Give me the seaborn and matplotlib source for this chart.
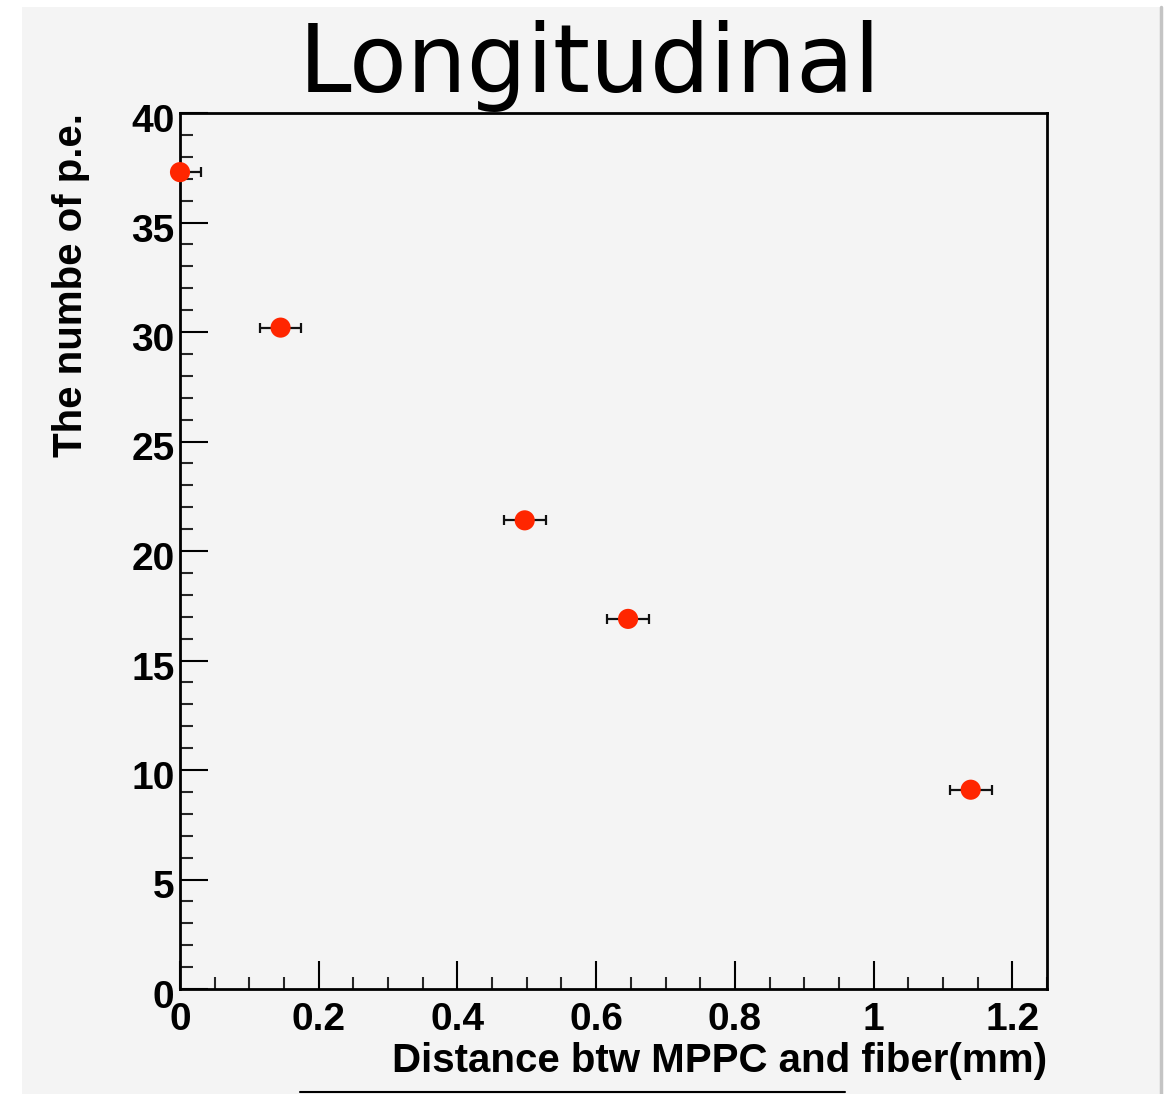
import matplotlib
matplotlib.use("Agg")
import matplotlib.pyplot as plt
import matplotlib.transforms as mtransforms
import seaborn as sns
import pandas as pd
from matplotlib.patches import Rectangle
from matplotlib.lines import Line2D
from matplotlib.ticker import MultipleLocator

# ---- data ----
distance_mm = [0.0, 0.145, 0.497, 0.646, 1.140]
n_pe = [37.3, 30.2, 21.4, 16.9, 9.1]
distance_err = [0.03, 0.03, 0.03, 0.03, 0.03]
x_ticks = [0, 0.2, 0.4, 0.6, 0.8, 1.0, 1.2]
x_tick_labels = ["0", "0.2", "0.4", "0.6", "0.8", "1", "1.2"]
y_ticks = [0, 5, 10, 15, 20, 25, 30, 35, 40]
title = "Longitudinal"
x_label = "Distance btw MPPC and fiber(mm)"
y_label = "The numbe of p.e."

df = pd.DataFrame({"distance": distance_mm, "npe": n_pe, "err": distance_err})

sns.set_theme(style="ticks")
plt.rcParams["font.family"] = ["Liberation Sans", "DejaVu Sans"]

W, H = 1173, 1094
fig = plt.figure(figsize=(W / 100, H / 100), dpi=100, facecolor="white")

# slide panel background
fig.patches.append(Rectangle((22 / W, 0), (1160 - 22) / W, (H - 7) / H,
                             transform=fig.transFigure, facecolor="#f4f4f4",
                             edgecolor="none", zorder=-3))
fig.lines.append(Line2D([1161 / W, 1161 / W], [0, (H - 7) / H], transform=fig.transFigure,
                        color="#c4c4c4", lw=2.5, zorder=-2))
fig.lines.append(Line2D([300 / W, 845 / W], [2 / H, 2 / H], transform=fig.transFigure,
                        color="black", lw=1.5, zorder=-2))

left, right, top, bottom = 180, 1047, 113, 989
ax = fig.add_axes([left / W, (H - bottom) / H, (right - left) / W, (bottom - top) / H])
ax.set_zorder(2)
ax.set_facecolor("#f4f4f4")

ax.errorbar(df["distance"], df["npe"], xerr=df["err"], fmt="none",
            ecolor="#111111", elinewidth=1.6, capsize=3.5, capthick=1.6, zorder=2)
sns.scatterplot(data=df, x="distance", y="npe", ax=ax, color="#ff2600", s=210,
                edgecolor="none", linewidth=0, zorder=3, clip_on=False, legend=False)

ax.set_xlim(0, 1.25)
ax.set_ylim(0, 40)
ax.set_xticks(x_ticks)
ax.set_xticklabels(x_tick_labels)
ax.set_yticks(y_ticks)
ax.xaxis.set_minor_locator(MultipleLocator(0.05))
ax.yaxis.set_minor_locator(MultipleLocator(1))

ax.tick_params(axis="both", which="major", direction="in", length=20, width=1.5,
               labelsize=28, colors="black")
ax.tick_params(axis="both", which="minor", direction="in", length=9, width=1.5)
ax.tick_params(axis="x", which="major", pad=9)
ax.tick_params(axis="y", which="major", pad=4)
ax.tick_params(top=False, right=False, which="both")
for lab in ax.get_xticklabels() + ax.get_yticklabels():
    lab.set_fontweight("bold")
    lab.set_color("black")
offset = mtransforms.ScaledTranslation(0, -5 / 100, fig.dpi_scale_trans)
for lab in ax.get_yticklabels():
    lab.set_transform(lab.get_transform() + offset)

for s in ax.spines.values():
    s.set_linewidth(2.0)
    s.set_color("black")

ax.set_xlabel("")
ax.set_ylabel("")
ax.text(1.0, (bottom - 1072) / (bottom - top), x_label, transform=ax.transAxes,
        ha="right", va="baseline", fontsize=29, fontweight="bold", color="black")
ax.text((71 - left) / (right - left), 1.0, y_label, transform=ax.transAxes,
        rotation=90, ha="center", va="top", fontsize=29, fontweight="bold", color="black")

fig.text(590 / W, 1 - 92 / H, title, ha="center", va="baseline", fontsize=68,
         family=["DejaVu Sans"], color="black")

fig.savefig("out.png", dpi=100, facecolor=fig.get_facecolor())
